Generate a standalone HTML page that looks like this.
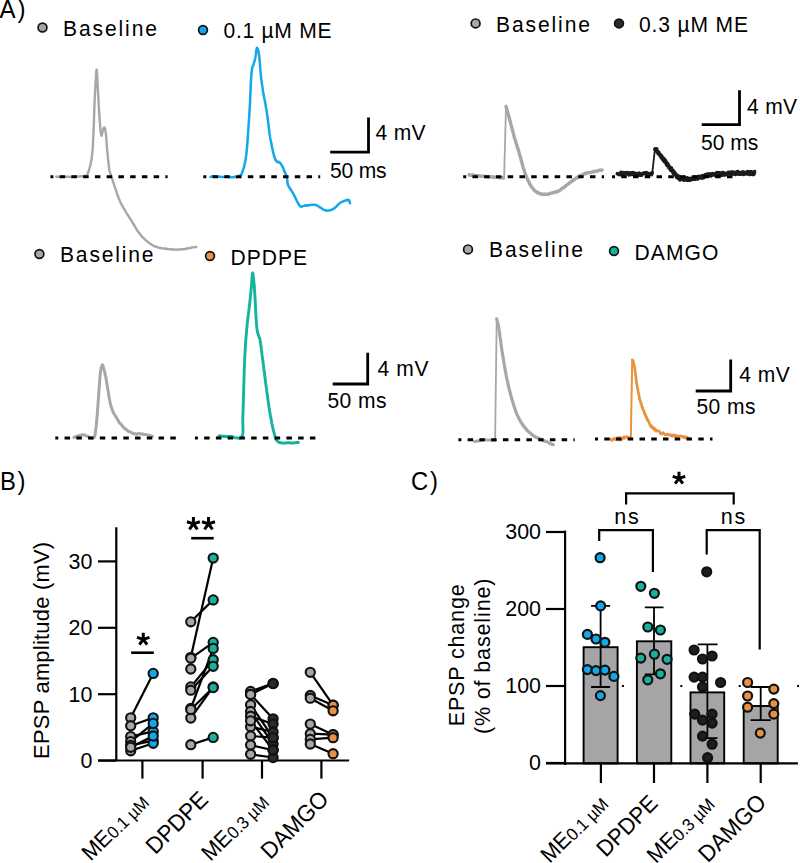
<!DOCTYPE html>
<html><head><meta charset="utf-8"><style>
html,body{margin:0;padding:0;background:#fff;}
svg{display:block;}
text{font-family:"Liberation Sans", sans-serif;fill:#000;}
</style></head><body>
<svg width="800" height="863" viewBox="0 0 800 863">
<rect width="800" height="863" fill="#fff"/>
<text transform="translate(-0.5,18) scale(0.955,1)" font-size="25.20" text-anchor="start" textLength="27.23" lengthAdjust="spacing" >A)</text>
<text transform="translate(0,489.5) scale(0.955,1)" font-size="24.99" text-anchor="start" textLength="26.70" lengthAdjust="spacing" >B)</text>
<text transform="translate(411,489.5) scale(0.955,1)" font-size="24.99" text-anchor="start" textLength="28.27" lengthAdjust="spacing" >C)</text>
<circle cx="42.5" cy="27.5" r="4.4" fill="#a7a7a9" stroke="#111" stroke-width="1.7"/>
<text transform="translate(63,35.7) scale(0.955,1)" font-size="22.05" text-anchor="start" textLength="98.43" lengthAdjust="spacing" >Baseline</text>
<circle cx="203" cy="30" r="4.4" fill="#12a8ec" stroke="#111" stroke-width="1.7"/>
<text transform="translate(223.5,37.6) scale(0.955,1)" font-size="22.05" text-anchor="start" textLength="113.09" lengthAdjust="spacing" >0.1 µM ME</text>
<circle cx="475.6" cy="23.4" r="4.4" fill="#a7a7a9" stroke="#111" stroke-width="1.7"/>
<text transform="translate(496,31.6) scale(0.955,1)" font-size="22.05" text-anchor="start" textLength="98.43" lengthAdjust="spacing" >Baseline</text>
<circle cx="619" cy="23.4" r="4.4" fill="#2a2a2a" stroke="#111" stroke-width="1.7"/>
<text transform="translate(639,31.6) scale(0.955,1)" font-size="22.05" text-anchor="start" textLength="114.14" lengthAdjust="spacing" >0.3 µM ME</text>
<circle cx="39.4" cy="254" r="4.4" fill="#a7a7a9" stroke="#111" stroke-width="1.7"/>
<text transform="translate(60,262) scale(0.955,1)" font-size="22.05" text-anchor="start" textLength="97.91" lengthAdjust="spacing" >Baseline</text>
<circle cx="210" cy="256" r="4.4" fill="#e8923f" stroke="#111" stroke-width="1.7"/>
<text transform="translate(230.5,264.6) scale(0.955,1)" font-size="22.05" text-anchor="start" textLength="80.10" lengthAdjust="spacing" >DPDPE</text>
<circle cx="468" cy="249.4" r="4.4" fill="#a7a7a9" stroke="#111" stroke-width="1.7"/>
<text transform="translate(489,257.4) scale(0.955,1)" font-size="22.05" text-anchor="start" textLength="98.43" lengthAdjust="spacing" >Baseline</text>
<circle cx="614" cy="251" r="4.4" fill="#14b3a0" stroke="#111" stroke-width="1.7"/>
<text transform="translate(634.5,260) scale(0.955,1)" font-size="22.05" text-anchor="start" textLength="87.96" lengthAdjust="spacing" >DAMGO</text>
<polyline points="56.2,176.5 56.7,176.9 57.2,176.8 57.9,176.6 58.6,176.7 59.4,176.7 60.2,176.8 61.1,176.9 62.0,176.6 62.9,176.5 63.9,177.0 64.9,176.8 65.8,176.9 66.7,176.6 67.6,176.8 68.5,176.9 69.3,176.7 70.0,177.0 71.0,177.0 71.9,176.5 72.9,176.5 73.8,176.8 74.7,176.9 75.5,176.6 76.4,176.5 77.2,176.6 77.9,176.4 78.7,176.4 79.4,176.5 80.0,176.5 81.2,176.3 82.1,176.3 83.0,176.2 83.7,176.3 84.4,176.1 85.0,175.8 85.8,176.1 86.4,176.0 86.9,175.6 87.6,173.8 87.8,173.8 87.9,173.2 88.1,172.3 88.3,171.8 88.5,171.4 88.8,170.8 89.0,170.2 89.2,169.2 89.4,168.7 89.6,167.8 89.9,166.8 90.1,166.1 90.3,165.4 90.5,164.5 90.7,163.4 90.9,162.5 91.1,161.2 91.3,160.4 91.5,159.6 91.7,158.4 91.8,157.2 91.9,156.8 92.0,156.2 92.0,155.4 92.1,154.6 92.2,153.9 92.3,153.2 92.3,152.5 92.4,151.6 92.5,150.8 92.5,150.0 92.6,149.0 92.6,148.2 92.7,147.7 92.8,147.0 92.8,145.9 92.9,145.0 92.9,144.0 92.9,143.3 93.0,142.7 93.0,141.7 93.1,140.7 93.1,140.0 93.2,138.8 93.2,138.1 93.2,137.4 93.3,136.3 93.3,135.4 93.4,134.4 93.4,133.7 93.4,133.1 93.5,131.8 93.5,131.3 93.6,130.5 93.6,129.7 93.6,128.8 93.7,128.0 93.7,127.0 93.8,126.2 93.8,125.3 93.8,124.3 93.9,123.8 93.9,122.8 93.9,121.8 93.9,121.1 94.0,120.2 94.0,119.3 94.0,118.5 94.1,117.7 94.1,116.9 94.1,116.1 94.1,115.1 94.2,114.1 94.2,113.3 94.2,112.5 94.2,111.9 94.3,111.2 94.3,110.3 94.3,109.5 94.3,108.7 94.4,107.6 94.4,107.1 94.4,106.3 94.5,105.2 94.5,104.4 94.5,103.7 94.5,103.3 94.6,102.3 94.6,101.5 94.6,100.8 94.7,99.8 94.7,98.7 94.8,97.8 94.8,97.1 94.8,96.1 94.9,95.2 94.9,94.6 95.0,93.6 95.0,92.7 95.1,91.9 95.1,90.8 95.1,90.2 95.2,89.4 95.2,88.5 95.3,87.7 95.3,87.3 95.4,86.4 95.4,85.5 95.5,85.0 95.5,84.4 95.5,83.3 95.6,82.6 95.6,82.0 95.7,81.6 95.7,80.7 95.8,79.8 95.8,78.6 95.9,77.4 96.0,76.0 96.1,75.2 96.1,74.0 96.2,72.9 96.3,71.8 96.3,71.2 96.4,70.4 96.5,70.0 96.6,69.6 96.6,69.6 96.7,69.5 96.7,69.8 96.8,70.5 96.8,70.8 96.9,71.0 96.9,71.9 97.0,72.2 97.0,73.3 97.1,74.0 97.1,74.6 97.2,75.4 97.2,76.2 97.3,77.6 97.3,78.2 97.4,79.6 97.4,80.7 97.5,81.6 97.5,82.5 97.6,83.9 97.6,85.0 97.7,85.9 97.7,86.8 97.8,87.7 97.8,88.4 97.9,89.1 97.9,90.1 98.0,90.7 98.0,91.4 98.1,92.1 98.1,93.2 98.1,93.9 98.2,94.8 98.2,95.5 98.3,96.7 98.3,97.5 98.4,98.0 98.4,98.9 98.5,99.8 98.5,101.0 98.6,101.8 98.6,102.4 98.6,103.2 98.7,104.3 98.7,105.3 98.8,106.1 98.8,106.7 98.9,107.8 98.9,108.5 99.0,109.2 99.0,110.2 99.1,110.6 99.1,111.6 99.2,112.0 99.2,112.7 99.3,114.1 99.3,114.7 99.4,116.0 99.5,116.8 99.5,117.9 99.6,118.6 99.7,119.5 99.7,120.4 99.8,121.6 99.9,122.4 99.9,123.4 100.0,124.2 100.1,124.6 100.1,125.6 100.2,126.2 100.2,126.9 100.3,127.6 100.4,128.7 100.4,129.3 100.5,129.9 100.5,130.3 100.6,131.0 100.8,132.7 101.0,133.8 101.1,134.9 101.3,135.3 101.4,135.5 101.6,135.7 101.8,135.7 101.9,134.9 102.1,134.2 102.3,132.9 102.5,131.8 102.7,131.1 102.9,130.4 103.4,128.6 103.8,127.8 104.3,127.3 104.5,127.5 104.8,128.3 105.0,128.5 105.2,129.4 105.5,131.0 105.7,132.3 105.8,132.7 105.8,133.3 105.9,134.0 106.0,135.0 106.0,135.4 106.1,136.6 106.2,137.1 106.2,138.2 106.3,139.1 106.4,139.6 106.4,140.5 106.5,141.5 106.6,142.3 106.6,143.5 106.7,144.1 106.8,145.0 106.9,146.5 106.9,147.1 107.0,148.1 107.1,149.0 107.2,149.7 107.3,150.3 107.3,151.6 107.4,152.5 107.5,153.3 107.6,153.8 107.7,154.7 107.7,155.8 107.8,156.9 107.9,157.6 108.0,158.5 108.1,159.4 108.2,160.1 108.3,161.1 108.4,161.8 108.5,162.7 108.6,163.4 108.7,164.3 108.8,165.4 108.8,165.9 108.9,166.7 109.0,167.4 109.1,168.1 109.2,168.4 109.4,169.7 109.6,170.8 109.8,171.6 110.0,172.6 110.2,173.2 110.4,173.5 110.7,174.2 110.9,175.1 111.2,176.0 111.4,176.7 111.7,177.2 111.9,177.8 112.1,178.6 112.3,179.2 112.6,180.2 112.8,180.8 113.1,181.5 113.3,182.6 113.6,183.2 113.9,184.3 114.1,185.0 114.4,186.0 114.7,186.5 115.0,187.5 115.2,188.4 115.5,188.7 115.7,189.9 116.0,190.3 116.3,191.4 116.5,192.3 116.8,193.0 117.1,193.5 117.3,194.2 117.6,195.2 117.9,196.2 118.2,196.7 118.5,197.7 118.8,198.1 119.1,199.3 119.4,199.6 119.7,200.5 120.0,201.5 120.4,202.2 120.7,203.0 121.1,203.7 121.5,204.4 121.9,205.1 122.3,205.5 122.6,206.4 123.0,206.9 123.4,207.9 123.9,208.6 124.3,209.0 124.7,209.6 125.1,210.7 125.5,211.3 125.9,211.9 126.2,212.5 126.7,213.4 127.1,214.0 127.6,214.7 128.0,215.4 128.5,216.0 128.9,216.6 129.4,217.7 129.8,218.2 130.3,219.0 130.7,219.5 131.2,220.3 131.6,220.9 132.1,221.6 132.5,222.4 132.9,223.4 133.4,223.9 133.8,224.6 134.2,225.5 134.7,226.0 135.1,226.6 135.5,227.6 136.0,228.3 136.4,229.1 136.9,229.8 137.3,230.6 137.8,231.3 138.3,231.7 138.8,232.5 139.3,233.2 139.8,233.7 140.3,234.5 140.9,235.2 141.4,236.0 142.0,236.7 142.5,237.0 143.1,237.8 143.7,238.1 144.3,238.7 144.9,239.5 145.6,240.2 146.2,240.4 146.9,241.2 147.5,241.8 148.2,242.1 148.9,242.7 149.5,243.3 150.2,243.6 150.9,244.2 151.7,244.7 152.4,245.1 153.1,245.6 153.9,246.1 154.7,246.5 155.5,246.6 156.2,246.7 157.0,247.0 157.8,247.3 158.6,247.7 159.4,247.9 160.2,247.8 161.1,248.2 161.9,248.4 162.8,248.3 163.6,248.5 164.5,248.4 165.4,248.8 166.2,248.5 167.1,249.1 167.9,249.1 168.8,249.1 169.6,249.0 170.4,249.4 171.2,249.5 172.0,249.1 172.8,249.5 173.6,249.6 174.4,249.5 175.3,249.6 176.1,249.5 176.9,249.8 177.7,249.8 178.6,249.5 179.5,249.7 180.3,249.4 181.2,249.2 182.0,249.2 182.8,249.1 183.6,249.3 184.5,249.2 185.4,248.7 186.3,248.8 187.2,248.5 188.2,248.2 189.1,248.2 190.0,248.0 190.9,248.0 191.7,247.5 192.5,247.4 193.3,247.4 194.0,247.1 194.7,247.2 195.3,247.1 195.8,247.1 196.2,246.8" fill="none" stroke="#a7a7a9" stroke-width="2.4" stroke-linejoin="round" stroke-linecap="round"/>
<polyline points="210.6,176.9 211.0,176.9 211.6,176.3 212.2,176.3 212.9,176.9 213.6,176.8 214.4,176.8 215.2,176.5 216.1,176.8 217.0,176.8 217.9,176.8 218.8,176.5 219.8,176.7 220.7,176.7 221.6,176.9 222.5,177.1 223.4,177.1 224.2,176.8 225.0,176.8 225.9,176.6 226.8,176.5 227.7,176.6 228.6,176.9 229.5,176.9 230.4,177.0 231.3,177.4 232.2,177.2 233.1,177.2 233.9,177.0 234.7,176.8 235.5,177.0 236.3,176.8 237.0,177.0 237.6,177.1 238.2,176.7 239.0,176.0 239.7,176.1 240.3,175.5 240.8,174.9 241.3,174.4 241.7,173.6 242.0,172.9 242.4,171.7 242.7,171.1 243.1,170.0 243.3,168.9 243.5,168.7 243.7,168.0 243.9,167.2 244.1,166.5 244.3,165.8 244.4,165.3 244.6,164.3 244.8,163.7 244.9,162.6 245.1,162.1 245.3,161.3 245.4,160.1 245.6,159.3 245.7,158.6 245.9,157.6 246.0,156.4 246.1,155.3 246.3,154.4 246.4,153.6 246.5,152.6 246.6,152.4 246.6,151.2 246.7,151.0 246.8,149.8 246.9,149.5 246.9,148.5 247.0,147.6 247.1,146.8 247.1,146.1 247.2,145.2 247.3,144.2 247.3,143.3 247.4,142.7 247.5,142.2 247.5,141.1 247.6,139.9 247.6,139.5 247.7,138.6 247.7,137.9 247.8,136.5 247.9,136.1 247.9,134.7 248.0,134.3 248.0,133.2 248.1,132.3 248.1,131.9 248.2,130.6 248.2,130.0 248.3,129.4 248.4,128.2 248.4,127.4 248.5,127.0 248.5,125.9 248.6,125.3 248.6,124.0 248.7,123.4 248.8,122.4 248.8,122.0 248.9,120.7 248.9,120.5 249.0,119.1 249.0,118.7 249.1,117.4 249.2,116.8 249.2,116.4 249.3,115.1 249.3,114.3 249.4,113.8 249.4,112.8 249.5,111.8 249.5,111.6 249.6,110.2 249.6,109.3 249.7,108.7 249.7,108.1 249.8,107.4 249.8,106.2 249.9,105.6 249.9,104.6 249.9,104.0 250.0,103.4 250.0,102.5 250.1,101.8 250.1,100.8 250.2,100.0 250.2,99.0 250.2,98.0 250.3,97.0 250.3,96.4 250.3,95.3 250.4,94.3 250.4,93.7 250.4,93.1 250.5,91.7 250.5,91.2 250.5,90.3 250.6,89.5 250.6,88.5 250.6,88.3 250.7,87.0 250.7,86.5 250.7,85.6 250.8,84.6 250.8,84.3 250.8,83.3 250.9,82.5 250.9,81.9 251.0,80.9 251.0,79.8 251.1,79.1 251.2,78.1 251.2,77.5 251.3,76.6 251.3,75.8 251.4,74.4 251.5,73.8 251.5,72.9 251.6,72.4 251.7,71.7 251.8,71.2 251.8,70.5 251.9,69.6 252.0,69.1 252.2,68.0 252.5,66.7 252.8,66.0 253.0,65.7 253.3,64.8 253.6,64.5 253.8,63.4 254.0,62.6 254.2,61.9 254.5,61.2 254.7,60.3 254.9,59.7 255.1,58.8 255.3,57.7 255.4,57.2 255.6,56.0 255.7,55.5 255.8,54.5 255.9,53.3 256.1,52.1 256.2,51.2 256.3,50.3 256.5,49.1 256.6,48.8 256.7,48.4 256.9,47.9 257.1,47.8 257.4,48.5 257.7,48.6 257.9,49.4 258.2,50.7 258.5,51.6 258.7,52.8 259.0,54.9 259.1,55.1 259.2,55.4 259.2,56.5 259.3,56.8 259.4,57.7 259.4,58.8 259.5,59.4 259.6,59.8 259.6,60.9 259.7,61.7 259.8,62.7 259.9,63.3 259.9,64.5 260.0,65.0 260.1,66.1 260.1,67.1 260.2,68.4 260.3,68.7 260.4,70.0 260.4,70.5 260.5,71.7 260.6,72.4 260.7,73.3 260.7,74.3 260.8,74.9 260.9,75.4 261.0,76.3 261.1,77.2 261.2,78.6 261.3,79.4 261.4,80.5 261.6,81.2 261.7,81.6 261.8,82.9 261.9,83.9 262.0,84.7 262.2,85.4 262.3,86.2 262.4,87.0 262.5,88.1 262.7,88.5 262.8,89.5 262.9,90.2 263.0,91.2 263.1,91.8 263.2,92.6 263.3,93.1 263.4,93.4 263.6,94.5 263.8,95.6 263.9,96.3 264.1,97.1 264.2,97.9 264.3,98.7 264.5,99.1 264.6,99.9 264.8,100.3 265.0,101.5 265.1,102.6 265.2,102.7 265.4,103.5 265.5,104.0 265.6,104.8 265.7,106.1 265.9,106.9 266.0,107.5 266.1,107.9 266.3,108.9 266.4,109.7 266.6,110.8 266.7,111.7 266.8,112.5 267.0,113.4 267.1,114.1 267.3,115.3 267.4,116.5 267.5,117.1 267.6,117.4 267.7,118.4 267.8,119.3 267.9,119.8 268.0,121.0 268.1,121.5 268.2,122.5 268.3,123.1 268.4,124.3 268.5,125.0 268.5,125.7 268.6,126.2 268.7,127.3 268.8,127.9 269.0,129.1 269.1,130.1 269.2,130.5 269.3,131.6 269.4,132.4 269.5,133.2 269.6,134.2 269.8,135.2 269.9,135.8 270.0,136.5 270.2,137.7 270.3,138.1 270.5,139.3 270.7,140.1 270.8,141.0 271.0,142.0 271.2,142.5 271.3,143.6 271.5,144.4 271.7,145.4 271.9,146.5 272.1,147.2 272.2,147.6 272.4,148.7 272.6,149.7 272.8,150.7 272.9,151.3 273.1,152.1 273.3,152.3 273.4,153.6 273.6,154.1 273.8,154.6 273.9,155.4 274.3,156.8 274.7,157.5 275.1,159.0 275.4,159.7 275.8,159.9 276.1,160.8 276.4,161.2 276.8,161.4 277.7,162.3 278.6,161.8 279.6,162.5 280.0,162.8 280.5,163.2 280.9,164.0 281.3,164.6 281.8,165.2 282.3,166.6 282.8,167.0 283.1,167.5 283.4,168.5 283.7,169.5 284.0,170.1 284.3,171.0 284.7,171.6 285.0,172.5 285.3,173.1 285.6,173.9 285.9,174.9 286.2,175.3 286.5,176.1 286.7,177.3 286.9,177.6 287.1,178.9 287.3,179.8 287.3,180.3 287.4,181.3 287.4,182.1 287.5,182.9 287.6,183.2 287.7,183.9 288.0,184.9 288.3,185.7 288.7,186.2 289.1,186.7 289.5,187.8 290.0,188.8 290.5,189.1 291.0,189.9 291.5,190.6 292.0,191.4 292.5,192.5 293.0,192.9 293.4,193.8 293.8,194.5 294.2,195.3 294.6,196.4 295.0,196.7 295.4,198.1 295.8,198.6 296.2,199.6 296.6,200.5 297.0,201.2 297.3,201.7 297.7,202.7 298.0,202.7 298.7,204.3 299.2,205.0 299.8,205.8 300.3,206.4 301.0,206.7 301.7,206.7 302.3,206.3 303.1,206.1 303.9,205.9 304.9,205.5 306.0,205.3 306.7,205.8 307.4,205.1 308.3,205.5 309.2,205.1 310.1,205.0 311.1,204.9 312.0,204.7 312.9,204.9 313.8,204.7 314.6,204.9 315.4,204.8 316.0,205.3 317.2,205.6 317.9,205.7 318.5,206.4 319.2,207.2 320.0,207.4 320.6,207.6 321.3,208.1 322.1,208.6 322.8,209.4 323.6,209.6 324.4,210.0 325.2,210.5 326.0,210.3 326.8,210.8 327.7,210.6 328.6,210.4 329.4,210.5 330.3,210.0 331.2,210.1 332.1,209.7 333.0,209.0 333.6,208.7 334.3,208.5 334.9,207.8 335.5,207.2 336.1,206.7 336.8,206.1 337.4,205.3 338.0,204.9 338.7,203.8 339.3,203.5 340.0,203.1 340.8,202.5 341.6,202.0 342.5,201.5 343.4,201.6 344.3,200.8 345.2,200.6 346.0,200.6 346.8,199.9 347.4,200.4 348.0,199.7 349.0,200.1 349.5,201.2 349.8,202.2 350.0,203.3" fill="none" stroke="#12a8ec" stroke-width="2.5" stroke-linejoin="round" stroke-linecap="round"/>
<polyline points="469.0,174.8 469.6,175.1 470.2,175.0 470.8,175.2 471.4,175.3 472.0,175.0 472.6,175.0 473.2,175.6 473.9,175.3 474.5,175.3 475.1,175.8 475.7,175.6 476.3,175.8 476.9,175.7 477.5,175.8 478.1,175.6 478.7,175.9 479.3,176.1 479.9,176.0 480.5,176.2 481.1,176.2 481.8,175.9 482.4,176.3 483.0,176.3 483.6,176.2 484.2,176.1 484.8,176.6 485.4,176.4 486.0,176.6 486.6,176.8 487.2,176.7 487.8,176.9 488.4,176.6 489.0,176.9 489.6,176.7 490.2,177.1 490.8,177.1 491.4,176.7 492.0,176.7 492.6,176.8 493.2,177.3 493.8,177.0 494.4,177.2 495.1,177.1 495.7,177.2 496.3,177.2 496.9,177.2 497.5,177.4 498.1,177.4 498.7,177.7 499.3,177.6 499.9,177.8 500.5,177.8 501.1,177.9 501.7,177.8 502.3,177.5 502.9,178.0 503.5,178.1" fill="none" stroke="#a7a7a9" stroke-width="3.4" stroke-linejoin="round" stroke-linecap="round"/>
<polyline points="504.1,178.0 504.1,177.4 504.1,176.8 504.1,176.2 504.2,175.6 504.2,175.0 504.2,174.4 504.2,173.8 504.2,173.2 504.2,172.6 504.3,172.0 504.3,171.4 504.3,170.8 504.3,170.2 504.3,169.6 504.3,169.0 504.4,168.4 504.4,167.8 504.4,167.2 504.4,166.6 504.4,166.0 504.4,165.4 504.5,164.8 504.5,164.2 504.5,163.6 504.5,163.0 504.5,162.4 504.5,161.8 504.5,161.2 504.6,160.6 504.6,160.0 504.6,159.4 504.6,158.8 504.6,158.2 504.6,157.6 504.7,157.0 504.7,156.4 504.7,155.8 504.7,155.2 504.7,154.6 504.7,154.0 504.8,153.4 504.8,152.8 504.8,152.2 504.8,151.6 504.8,151.0 504.8,150.4 504.9,149.8 504.9,149.2 504.9,148.6 504.9,148.0 504.9,147.4 504.9,146.8 504.9,146.2 505.0,145.6 505.0,145.0 505.0,144.4 505.0,143.8 505.0,143.2 505.0,142.6 505.1,142.0 505.1,141.4 505.1,140.8 505.1,140.2 505.1,139.6 505.1,139.0 505.2,138.4 505.2,137.8 505.2,137.2 505.2,136.6 505.2,136.0 505.2,135.4 505.2,134.8 505.3,134.2 505.3,133.6 505.3,133.0 505.3,132.4 505.3,131.8 505.3,131.2 505.4,130.6 505.4,130.0 505.4,129.4 505.4,128.8 505.4,128.2 505.4,127.6 505.5,127.0 505.5,126.4 505.5,125.8 505.5,125.2 505.5,124.6 505.5,124.0 505.6,123.4 505.6,122.8 505.6,122.2 505.6,121.6 505.6,121.0 505.6,120.4 505.6,119.8 505.7,119.2 505.7,118.6 505.7,118.0 505.7,117.4 505.7,116.8 505.7,116.2 505.8,115.6 505.8,115.0 505.8,114.4 505.8,113.8 505.8,113.2 505.8,112.6 505.9,112.0 505.9,111.4 505.9,110.8 505.9,110.2 505.9,109.6 505.9,109.0 506.0,108.4 506.0,107.8 506.0,107.2 506.0,106.6" fill="none" stroke="#a7a7a9" stroke-width="1.8" stroke-linejoin="round" stroke-linecap="round"/>
<polyline points="506.0,106.4 506.1,106.8 506.3,107.5 506.4,107.9 506.6,108.5 506.8,109.4 507.0,110.4 507.3,111.2 507.5,112.0 507.7,112.5 508.0,113.6 508.3,114.4 508.5,115.2 508.8,116.2 509.1,117.2 509.3,118.6 509.6,119.5 509.8,120.2 510.0,120.9 510.2,121.2 510.4,122.1 510.6,123.0 510.8,123.9 511.0,124.8 511.2,125.6 511.4,125.9 511.6,127.1 511.9,127.9 512.1,128.7 512.3,129.3 512.5,130.3 512.8,131.0 513.0,132.3 513.2,133.1 513.4,133.7 513.6,134.4 513.9,135.5 514.1,136.1 514.3,137.1 514.5,137.8 514.7,138.4 515.0,139.2 515.2,140.2 515.5,140.9 515.7,141.5 515.9,142.4 516.2,143.5 516.4,143.8 516.7,144.5 516.9,145.7 517.1,146.2 517.4,147.1 517.6,147.9 517.9,148.5 518.1,149.7 518.3,150.0 518.6,150.9 518.8,151.6 519.1,152.7 519.3,153.3 519.5,154.1 519.7,155.1 520.0,155.6 520.2,156.5 520.4,157.5 520.6,157.9 520.9,158.7 521.1,159.6 521.3,160.7 521.5,161.4 521.7,162.0 522.0,162.9 522.2,163.6 522.4,164.6 522.6,165.1 522.9,166.3 523.1,167.2 523.3,168.0 523.5,168.6 523.8,169.4 524.0,169.5 524.2,170.4 524.5,171.7 524.8,172.4 525.1,173.1 525.4,174.2 525.7,174.8 526.0,175.8 526.3,176.2 526.6,176.9 526.9,177.8 527.2,178.3 527.5,179.2 527.8,180.2 528.1,180.5 528.4,181.0 528.8,181.7 529.1,182.4 529.5,183.6 529.9,184.1 530.4,184.8 530.8,185.4 531.2,186.7 531.7,187.0 532.1,187.6 532.6,188.1 533.1,188.7 533.6,189.4 534.1,190.2 534.6,190.4 535.2,190.8 535.9,191.6 536.6,191.9 537.4,192.8 538.2,192.7 539.1,193.2 539.9,193.7 540.7,193.7 541.6,194.3 542.4,194.1 543.2,194.1 544.0,194.3 544.8,194.2 545.7,194.4 546.5,194.2 547.3,194.5 548.2,194.3 549.0,193.9 549.8,193.4 550.6,193.3 551.4,193.1 552.2,192.8 553.0,192.6 553.7,192.8 554.4,192.2 555.1,191.9 555.9,192.2 556.6,191.7 557.4,191.7 558.2,191.0 559.1,190.8 560.0,190.1 560.6,189.8 561.1,189.4 561.8,188.8 562.4,188.1 563.0,187.7 563.7,187.6 564.4,187.1 565.0,186.6 565.7,185.7 566.4,185.3 567.1,184.8 567.8,184.2 568.5,183.7 569.3,183.0 570.0,182.5 570.6,182.1 571.3,181.3 572.0,181.3 572.7,180.8 573.4,179.8 574.0,179.9 574.7,179.4 575.3,178.8 576.0,178.0 576.6,178.1 577.3,177.2 578.0,177.3 578.6,176.7 579.3,175.9 580.0,175.6 580.8,175.5 581.5,175.1 582.3,174.8 583.1,174.6 584.0,173.8 584.7,173.5 585.4,173.8 586.2,173.0 587.0,173.3 587.8,172.6 588.7,172.8 589.6,172.6 590.5,172.5 591.4,172.1 592.4,172.1 593.3,171.5 594.2,171.6 595.1,171.2 596.0,171.4 596.8,171.1 597.7,170.8 598.4,170.7 599.2,170.3 599.9,170.1 600.5,170.4 601.1,170.2 601.6,170.3 602.0,170.1" fill="none" stroke="#a7a7a9" stroke-width="3.4" stroke-linejoin="round" stroke-linecap="round"/>
<polyline points="617.3,173.7 617.9,174.0 618.5,174.2 619.1,174.6 619.7,174.1 620.4,174.6 621.0,172.3 621.6,173.5 622.2,174.7 622.8,174.0 623.4,174.6 624.0,172.6 624.6,173.6 625.2,173.0 625.8,173.8 626.5,173.9 627.1,172.5 627.7,173.0 628.3,173.2 628.9,174.9 629.5,174.5 630.1,172.9 630.7,174.6 631.3,172.9 631.9,174.2 632.6,172.9 633.2,172.6 633.8,174.9 634.4,173.2 635.0,173.3 635.6,175.3 636.2,175.0 636.8,173.5 637.5,175.2 638.1,174.1 638.7,174.5 639.3,173.2 639.9,175.1 640.5,174.5 641.1,175.2 641.8,175.0 642.4,173.5 643.0,173.6 643.6,173.1 644.2,173.1 644.8,172.9 645.4,173.5 646.1,174.3 646.7,172.7 647.3,174.5 647.9,173.6 648.5,173.5 649.1,174.8 649.7,173.9 650.4,173.5 651.0,174.0 651.6,174.5 652.2,172.8" fill="none" stroke="#1a1a1a" stroke-width="3.6" stroke-linejoin="round" stroke-linecap="round"/>
<polyline points="652.2,173.8 652.3,173.1 652.3,172.5 652.4,171.9 652.5,171.3 652.5,170.7 652.6,170.1 652.7,169.5 652.7,168.9 652.8,168.3 652.9,167.7 652.9,167.1 653.0,166.5 653.1,165.9 653.1,165.3 653.2,164.7 653.3,164.1 653.3,163.5 653.4,162.9 653.5,162.3 653.5,161.7 653.6,161.1 653.7,160.5 653.7,159.9 653.8,159.3 653.9,158.7 653.9,158.1 654.0,157.5 654.1,156.8 654.1,156.2 654.2,155.6 654.3,155.0 654.3,154.4 654.4,153.8 654.5,153.2 654.5,152.6 654.6,152.0 654.7,151.4 654.7,150.8 654.8,150.2 654.9,149.6 654.9,149.0 655.0,148.4" fill="none" stroke="#1a1a1a" stroke-width="1.8" stroke-linejoin="round" stroke-linecap="round"/>
<polyline points="655.0,149.2 655.4,149.7 655.7,149.3 656.1,149.2 656.5,149.0 656.8,151.2 657.2,151.2 657.6,152.4 658.0,151.9 658.3,153.4 658.7,152.6 659.1,154.4 659.4,154.7 659.8,154.4 660.2,155.2 660.5,156.0 660.9,155.2 661.3,156.6 661.6,157.8 662.0,156.8 662.4,158.7 662.7,158.9 663.1,159.8 663.5,158.9 663.9,158.8 664.2,161.1 664.6,161.6 665.0,161.1 665.3,160.7 665.7,161.4 666.1,163.0 666.4,162.6 666.8,164.8 667.2,164.3 667.5,163.8 667.9,165.5 668.3,165.2 668.7,167.1 669.0,167.5 669.4,167.0 669.8,167.8 670.1,168.4 670.5,169.2 670.9,170.1 671.2,168.1 671.6,169.5 672.0,170.6 672.3,170.3 672.7,171.5 673.1,170.7 673.4,173.2 673.8,172.7 674.2,172.1 674.6,174.0 674.9,173.6 675.3,173.8 675.7,175.0 676.0,174.6 676.4,175.2 676.9,177.3 677.4,177.3 677.9,175.8 678.5,178.2 679.0,176.6 679.5,177.8 680.0,179.7 680.6,178.9 681.2,178.1 681.9,178.3 682.5,178.4 683.1,177.7 683.8,180.0 684.4,177.5 685.0,178.5 685.6,179.4 686.2,178.5 686.9,180.0 687.5,178.1 688.1,180.0 688.8,179.8 689.4,179.2 690.0,179.8 690.6,178.6 691.2,179.5 691.8,179.4 692.5,178.6 693.1,178.4 693.7,179.0 694.3,178.1 694.9,177.2 695.5,178.9 696.2,177.6 696.8,178.1 697.4,178.8 698.0,177.1 698.6,176.6 699.2,176.7 699.8,177.7 700.4,176.9 701.0,176.5 701.6,176.8 702.2,177.9 702.8,175.9 703.4,176.2 704.0,177.2 704.6,176.3 705.2,175.2 705.8,175.6 706.4,175.4 707.0,174.4 707.6,174.8 708.2,174.5 708.8,175.6 709.4,174.1 710.0,175.0 710.6,175.8 711.2,175.6 711.8,174.1 712.5,174.7 713.1,173.9 713.7,174.1 714.3,174.3 714.9,175.0 715.5,175.4 716.1,173.7 716.7,172.9 717.3,174.0 718.0,173.0 718.6,172.9 719.2,174.8 719.8,173.0 720.4,174.5 721.0,173.6 721.6,175.0 722.2,174.8 722.8,172.7 723.5,173.0 724.1,174.9 724.7,174.0 725.3,173.5 725.9,174.4 726.5,174.4 727.1,173.6 727.7,173.5 728.3,172.5 728.9,173.1 729.6,172.5 730.2,173.7 730.8,173.7 731.4,172.4 732.0,173.6 732.6,172.2 733.2,172.2 733.8,173.6 734.4,173.1 735.1,174.2 735.7,173.4 736.3,173.6 736.9,172.1 737.5,173.9 738.1,171.9 738.7,173.3 739.3,174.1 739.9,174.1 740.5,174.0 741.1,172.9 741.7,173.5 742.3,173.8 742.9,172.1 743.5,174.2 744.1,174.1 744.7,172.8 745.3,173.7 746.0,172.9 746.6,172.4 747.2,173.6 747.8,171.9 748.4,173.8 749.0,174.2 749.6,172.4 750.2,174.1 750.8,171.9 751.4,173.9 752.0,172.4 752.6,174.2 753.2,172.8 753.8,174.1 754.4,171.8" fill="none" stroke="#1a1a1a" stroke-width="4.0" stroke-linejoin="round" stroke-linecap="round"/>
<polyline points="73.8,437.4 74.2,437.1 74.9,437.3 75.6,436.6 76.4,436.6 77.3,436.2 78.3,435.7 79.2,435.7 80.1,435.2 81.0,435.2 81.8,434.8 82.5,434.7 83.6,434.9 84.4,435.3 85.2,435.1 86.0,435.4 86.7,436.0 87.5,436.6 88.4,436.6 89.3,437.0 90.2,437.8 91.0,437.6 91.8,438.4 92.5,438.1 93.2,437.8 93.7,437.6 94.2,437.3 94.6,436.8 95.0,434.8 95.1,434.5 95.2,434.0 95.3,433.2 95.4,432.6 95.5,431.5 95.6,430.8 95.7,430.1 95.8,429.6 95.9,428.5 96.0,427.6 96.1,426.8 96.2,425.8 96.3,424.8 96.4,424.2 96.5,423.3 96.6,422.0 96.7,421.4 96.7,420.5 96.8,419.8 96.9,418.9 97.0,417.8 97.0,417.5 97.1,416.1 97.2,415.5 97.2,414.9 97.3,413.7 97.4,413.1 97.4,412.0 97.5,411.6 97.5,410.9 97.6,409.9 97.6,409.4 97.7,408.1 97.8,407.6 97.8,406.7 97.9,405.9 97.9,405.0 98.0,404.4 98.0,403.7 98.1,402.5 98.2,401.8 98.2,400.6 98.3,400.2 98.3,399.3 98.4,398.7 98.5,397.7 98.5,396.5 98.6,395.7 98.7,395.0 98.7,393.7 98.8,393.1 98.8,392.1 98.9,391.2 99.0,390.3 99.0,390.0 99.1,388.7 99.2,387.9 99.2,387.2 99.3,386.8 99.3,385.5 99.4,385.0 99.5,384.1 99.5,383.4 99.6,382.5 99.7,381.6 99.7,380.3 99.8,379.5 99.9,378.6 99.9,378.1 100.0,377.3 100.1,375.9 100.1,375.2 100.2,374.4 100.3,373.7 100.3,373.2 100.4,372.6 100.5,371.7 100.6,370.9 100.8,370.0 101.0,368.7 101.2,367.7 101.5,367.0 101.7,366.0 102.0,365.3 102.2,365.1 102.5,365.1 102.7,364.9 102.9,365.9 103.2,366.5 103.4,367.3 103.6,368.1 103.9,368.8 104.1,369.8 104.3,370.6 104.6,372.0 104.8,372.5 105.0,373.4 105.2,374.3 105.3,375.1 105.5,375.9 105.7,376.5 105.8,377.2 106.0,378.1 106.1,378.9 106.2,379.9 106.4,380.5 106.6,382.0 106.7,382.8 106.9,383.5 107.0,384.3 107.1,385.0 107.3,385.8 107.4,386.4 107.5,387.7 107.6,388.6 107.8,389.1 107.9,390.0 108.0,390.5 108.2,391.4 108.3,392.4 108.5,393.2 108.6,394.4 108.7,394.8 108.9,395.5 109.0,396.9 109.1,397.4 109.3,397.8 109.4,398.8 109.6,399.4 109.8,400.7 110.0,402.0 110.2,402.8 110.3,403.5 110.5,404.0 110.7,404.8 110.9,405.5 111.1,406.6 111.4,407.2 111.6,408.2 111.9,408.6 112.2,409.3 112.5,410.5 112.8,411.4 113.1,412.0 113.5,412.7 113.8,413.4 114.2,414.1 114.6,414.4 115.0,415.4 115.4,416.0 115.8,416.4 116.2,417.2 116.7,418.0 117.1,418.7 117.6,419.7 118.0,420.6 118.5,421.0 119.0,422.1 119.5,422.8 120.0,423.5 120.5,423.7 121.0,424.3 121.5,424.9 122.0,425.5 122.5,426.0 123.1,427.0 123.8,427.8 124.4,428.3 125.0,428.6 125.6,429.2 126.2,429.8 126.9,429.8 127.5,430.6 128.1,431.2 128.8,431.4 129.5,431.9 130.3,432.1 131.0,432.2 131.8,433.0 132.6,433.0 133.3,433.6 134.2,433.9 135.0,433.7 135.8,433.8 136.5,434.2 137.3,434.1 138.1,433.7 138.9,433.6 139.8,433.6 140.6,434.1 141.6,434.1 142.5,433.8 143.3,434.4 144.1,434.6 145.1,434.6 146.0,434.6 147.0,434.9 148.0,434.9 148.9,435.0 149.8,435.9 150.6,435.9 151.4,436.0 152.0,436.4 152.5,436.2" fill="none" stroke="#a7a7a9" stroke-width="3.0" stroke-linejoin="round" stroke-linecap="round"/>
<polyline points="219.1,435.9 219.6,436.4 220.2,435.9 220.9,436.3 221.6,436.0 222.5,436.1 223.3,436.6 224.3,436.2 225.2,436.5 226.2,436.4 227.2,436.5 228.2,436.5 229.1,436.4 230.0,436.8 230.8,436.4 231.7,436.7 232.7,436.7 233.6,437.1 234.6,437.5 235.6,438.0 236.5,437.9 237.4,437.9 238.3,438.1 239.2,438.5 240.0,437.8 240.7,437.8 241.3,437.2 241.8,436.7 242.0,436.1 242.2,435.9 242.4,435.3 242.5,435.0 242.7,434.6 242.8,433.9 242.8,433.1 242.9,432.5 242.9,432.5 243.0,431.6 243.0,430.7 243.0,430.5 243.0,429.6 243.0,428.9 243.0,428.2 242.9,427.0 242.9,426.2 242.9,425.6 242.9,424.2 242.8,423.6 242.8,422.1 242.8,421.4 242.8,420.2 242.8,419.2 242.8,417.9 242.9,416.4 242.9,414.8 242.9,414.2 242.9,413.9 243.0,413.2 243.0,412.4 243.0,412.2 243.0,411.3 243.1,410.8 243.1,409.8 243.1,409.1 243.1,408.2 243.1,407.7 243.2,406.9 243.2,406.2 243.2,405.4 243.2,404.9 243.3,404.2 243.3,402.9 243.3,402.3 243.3,401.3 243.4,400.8 243.4,400.1 243.4,398.8 243.4,398.3 243.4,397.2 243.5,396.1 243.5,395.7 243.5,394.6 243.5,393.6 243.6,392.8 243.6,391.8 243.6,391.0 243.6,390.2 243.7,389.3 243.7,388.5 243.7,387.4 243.8,386.4 243.8,385.5 243.8,384.6 243.8,383.9 243.9,382.9 243.9,382.3 243.9,381.2 243.9,380.5 244.0,379.7 244.0,378.3 244.0,377.4 244.0,376.6 244.1,375.9 244.1,375.1 244.1,374.4 244.2,373.3 244.2,372.9 244.2,371.4 244.2,371.1 244.3,369.9 244.3,369.6 244.3,368.3 244.3,368.0 244.4,367.2 244.4,366.5 244.4,365.6 244.5,364.6 244.5,364.4 244.5,363.4 244.5,362.5 244.6,362.1 244.6,361.4 244.6,360.3 244.7,359.1 244.7,358.1 244.8,357.3 244.8,356.3 244.9,355.1 244.9,354.4 245.0,353.6 245.0,352.7 245.1,351.7 245.1,350.8 245.2,349.9 245.2,349.0 245.3,348.1 245.3,347.5 245.4,346.5 245.4,346.0 245.5,345.3 245.5,344.4 245.6,343.3 245.6,342.8 245.7,342.1 245.7,341.1 245.8,340.9 245.8,340.1 245.9,339.2 245.9,338.6 246.0,337.6 246.0,336.9 246.1,336.4 246.2,335.8 246.2,335.1 246.3,334.0 246.3,333.6 246.4,333.1 246.5,332.3 246.5,331.7 246.6,331.0 246.6,329.9 246.7,329.2 246.8,328.4 246.9,327.8 247.0,326.5 247.0,326.0 247.1,325.1 247.2,324.0 247.3,323.2 247.4,322.5 247.5,321.5 247.6,320.4 247.7,319.9 247.8,318.6 247.9,317.9 248.0,317.4 248.1,316.5 248.2,315.4 248.3,314.6 248.4,314.0 248.5,313.3 248.6,312.4 248.7,311.8 248.8,310.9 248.9,310.2 249.0,309.3 249.1,308.5 249.2,307.8 249.3,307.1 249.4,306.4 249.5,305.9 249.5,304.8 249.6,304.0 249.7,303.7 249.8,302.5 249.9,301.6 250.0,300.4 250.1,299.9 250.2,298.7 250.3,297.8 250.4,297.3 250.5,296.3 250.5,295.3 250.6,294.9 250.7,293.8 250.8,293.0 250.8,292.6 250.9,291.7 251.0,290.9 251.1,289.9 251.1,289.5 251.2,288.6 251.3,288.0 251.3,287.0 251.4,286.6 251.5,285.6 251.6,284.3 251.7,283.3 251.7,282.2 251.8,281.2 251.9,280.0 252.0,278.8 252.0,277.4 252.1,276.6 252.2,275.8 252.3,274.6 252.3,274.1 252.4,273.8 252.5,273.5 252.6,273.3 252.7,272.9 252.8,273.3 252.9,273.7 252.9,273.9 253.0,274.2 253.1,274.5 253.2,275.6 253.3,276.3 253.4,276.9 253.5,277.5 253.5,278.6 253.6,279.5 253.7,280.4 253.8,281.3 253.9,282.1 254.0,283.1 254.1,284.2 254.2,285.3 254.3,286.5 254.4,287.3 254.4,288.7 254.5,289.6 254.6,290.5 254.6,291.2 254.7,292.0 254.7,292.8 254.8,293.8 254.8,294.2 254.9,295.0 254.9,295.9 255.0,296.7 255.0,297.9 255.1,298.4 255.1,299.2 255.2,300.4 255.2,301.4 255.3,302.4 255.3,303.2 255.3,303.9 255.4,305.2 255.4,306.0 255.5,306.8 255.5,307.7 255.6,308.8 255.6,309.8 255.6,310.6 255.7,311.0 255.7,311.9 255.8,312.8 255.8,313.5 255.9,314.6 255.9,314.9 255.9,316.2 256.0,316.7 256.0,317.4 256.1,317.9 256.1,318.9 256.2,319.9 256.3,321.2 256.3,322.2 256.4,323.1 256.5,324.1 256.5,324.7 256.6,325.4 256.7,326.4 256.8,326.9 256.8,327.5 256.9,328.3 257.0,328.8 257.1,329.3 257.2,330.3 257.3,330.7 257.4,331.7 257.6,332.3 257.8,333.4 258.0,333.7 258.3,334.4 258.5,335.2 258.8,336.1 259.0,336.8 259.3,337.4 259.5,337.9 259.8,338.9 260.0,339.7 260.1,340.6 260.2,341.6 260.4,341.9 260.5,342.8 260.6,343.5 260.7,343.9 260.8,345.0 260.9,345.4 261.0,346.2 261.1,347.3 261.2,347.9 261.3,349.2 261.4,349.8 261.6,350.9 261.7,352.1 261.8,352.6 262.0,354.2 262.1,354.7 262.2,355.7 262.3,356.4 262.4,357.3 262.4,357.6 262.5,358.6 262.6,359.2 262.7,359.8 262.8,360.4 262.9,361.2 263.0,362.0 263.1,362.8 263.2,363.6 263.3,364.6 263.4,365.2 263.5,366.2 263.6,366.6 263.7,367.5 263.8,368.7 263.9,369.7 264.0,370.2 264.2,370.9 264.3,371.8 264.4,372.8 264.5,373.6 264.6,374.6 264.7,375.3 264.8,376.4 264.9,377.4 265.1,378.3 265.2,379.1 265.3,379.9 265.4,380.6 265.5,381.7 265.6,382.1 265.7,383.2 265.8,383.8 265.9,384.7 266.0,385.4 266.1,386.3 266.2,387.0 266.4,387.9 266.5,388.9 266.6,389.5 266.7,390.5 266.8,391.2 266.9,392.1 267.0,392.9 267.1,393.9 267.3,394.8 267.4,395.3 267.5,396.2 267.6,397.4 267.7,397.9 267.8,399.1 268.0,399.9 268.1,400.5 268.2,401.5 268.3,402.1 268.4,403.3 268.6,403.7 268.7,404.5 268.8,405.2 268.9,406.4 269.0,406.9 269.1,407.7 269.3,408.8 269.4,409.4 269.5,410.1 269.6,410.7 269.8,411.7 269.9,412.3 270.1,413.7 270.2,414.3 270.4,415.6 270.5,416.2 270.7,417.4 270.9,417.7 271.0,419.2 271.2,419.5 271.3,420.6 271.5,421.4 271.7,422.6 271.8,423.2 272.0,424.2 272.1,424.9 272.3,425.4 272.5,425.9 272.6,426.7 272.8,427.7 272.9,428.6 273.1,429.1 273.3,429.5 273.4,430.3 273.6,431.0 273.7,431.4 273.9,432.2 274.2,433.1 274.5,434.0 274.7,435.1 275.0,436.2 275.2,437.2 275.5,437.7 275.7,438.5 276.0,439.4 276.3,439.7 276.7,440.4 277.1,441.0 277.6,441.3 278.2,441.6 278.8,442.3 279.5,442.5 280.3,442.4 281.1,442.9 282.0,443.0 282.9,443.1 283.8,443.1 284.8,442.9 285.7,443.0 286.7,442.8 287.6,442.9 288.4,442.6 289.2,442.7 290.0,442.8 291.0,443.0 292.0,442.9 293.0,443.0 294.0,442.9 294.9,442.9 295.8,442.6 296.6,442.5 297.3,442.4 297.9,442.2 298.4,442.5" fill="none" stroke="#14b3a0" stroke-width="2.9" stroke-linejoin="round" stroke-linecap="round"/>
<polyline points="474.4,441.6 475.0,441.4 475.6,441.2 476.3,441.5 476.9,440.9 477.5,441.1 478.1,441.2 478.8,440.6 479.4,440.8 480.0,440.7 480.6,440.3 481.3,440.4 481.9,440.5 482.5,440.2 483.1,440.3 483.8,439.8 484.4,439.7 485.0,439.6 485.6,439.9 486.3,440.2 486.9,440.0 487.5,440.2 488.2,440.0 488.8,440.2 489.4,439.9 490.1,440.1 490.7,440.4 491.3,440.4 491.9,440.3 492.6,440.2 493.2,440.3 493.8,440.3 494.5,440.4 495.1,440.8" fill="none" stroke="#a7a7a9" stroke-width="2.8" stroke-linejoin="round" stroke-linecap="round"/>
<polyline points="495.1,440.6 495.1,440.0 495.1,439.4 495.1,438.8 495.1,438.2 495.1,437.6 495.1,437.0 495.2,436.4 495.2,435.8 495.2,435.2 495.2,434.6 495.2,434.0 495.2,433.4 495.2,432.8 495.2,432.2 495.2,431.6 495.2,431.0 495.2,430.4 495.2,429.8 495.3,429.2 495.3,428.6 495.3,427.9 495.3,427.3 495.3,426.7 495.3,426.1 495.3,425.5 495.3,424.9 495.3,424.3 495.3,423.7 495.3,423.1 495.3,422.5 495.3,421.9 495.4,421.3 495.4,420.7 495.4,420.1 495.4,419.5 495.4,418.9 495.4,418.3 495.4,417.7 495.4,417.1 495.4,416.5 495.4,415.9 495.4,415.3 495.4,414.7 495.4,414.1 495.5,413.5 495.5,412.9 495.5,412.3 495.5,411.7 495.5,411.1 495.5,410.5 495.5,409.9 495.5,409.3 495.5,408.7 495.5,408.1 495.5,407.5 495.5,406.9 495.6,406.3 495.6,405.7 495.6,405.1 495.6,404.5 495.6,403.8 495.6,403.2 495.6,402.6 495.6,402.0 495.6,401.4 495.6,400.8 495.6,400.2 495.6,399.6 495.6,399.0 495.7,398.4 495.7,397.8 495.7,397.2 495.7,396.6 495.7,396.0 495.7,395.4 495.7,394.8 495.7,394.2 495.7,393.6 495.7,393.0 495.7,392.4 495.7,391.8 495.7,391.2 495.8,390.6 495.8,390.0 495.8,389.4 495.8,388.8 495.8,388.2 495.8,387.6 495.8,387.0 495.8,386.4 495.8,385.8 495.8,385.2 495.8,384.6 495.8,384.0 495.9,383.4 495.9,382.8 495.9,382.2 495.9,381.6 495.9,381.0 495.9,380.4 495.9,379.8 495.9,379.1 495.9,378.5 495.9,377.9 495.9,377.3 495.9,376.7 495.9,376.1 496.0,375.5 496.0,374.9 496.0,374.3 496.0,373.7 496.0,373.1 496.0,372.5 496.0,371.9 496.0,371.3 496.0,370.7 496.0,370.1 496.0,369.5 496.0,368.9 496.1,368.3 496.1,367.7 496.1,367.1 496.1,366.5 496.1,365.9 496.1,365.3 496.1,364.7 496.1,364.1 496.1,363.5 496.1,362.9 496.1,362.3 496.1,361.7 496.1,361.1 496.2,360.5 496.2,359.9 496.2,359.3 496.2,358.7 496.2,358.1 496.2,357.5 496.2,356.9 496.2,356.3 496.2,355.7 496.2,355.0 496.2,354.4 496.2,353.8 496.2,353.2 496.3,352.6 496.3,352.0 496.3,351.4 496.3,350.8 496.3,350.2 496.3,349.6 496.3,349.0 496.3,348.4 496.3,347.8 496.3,347.2 496.3,346.6 496.3,346.0 496.4,345.4 496.4,344.8 496.4,344.2 496.4,343.6 496.4,343.0 496.4,342.4 496.4,341.8 496.4,341.2 496.4,340.6 496.4,340.0 496.4,339.4 496.4,338.8 496.4,338.2 496.5,337.6 496.5,337.0 496.5,336.4 496.5,335.8 496.5,335.2 496.5,334.6 496.5,334.0 496.5,333.4 496.5,332.8 496.5,332.2 496.5,331.6 496.5,330.9 496.5,330.3 496.6,329.7 496.6,329.1 496.6,328.5 496.6,327.9 496.6,327.3 496.6,326.7 496.6,326.1 496.6,325.5 496.6,324.9 496.6,324.3 496.6,323.7 496.6,323.1 496.7,322.5 496.7,321.9 496.7,321.3 496.7,320.7 496.7,320.1 496.7,319.5 496.7,318.9" fill="none" stroke="#a7a7a9" stroke-width="1.8" stroke-linejoin="round" stroke-linecap="round"/>
<polyline points="496.7,318.9 496.8,319.3 496.9,319.9 497.1,320.2 497.3,321.1 497.5,321.8 497.7,322.5 497.9,323.0 498.1,324.2 498.3,325.2 498.6,326.4 498.8,328.2 498.9,328.8 499.0,328.8 499.1,330.0 499.2,330.5 499.3,331.0 499.4,331.7 499.5,332.7 499.6,333.3 499.7,334.2 499.8,335.0 499.9,335.5 500.0,336.7 500.2,337.7 500.3,338.6 500.4,339.2 500.5,339.8 500.6,340.6 500.7,341.6 500.9,343.0 501.0,343.5 501.1,344.4 501.2,345.6 501.4,346.2 501.5,347.2 501.6,348.0 501.7,348.6 501.9,349.8 502.0,350.8 502.1,351.2 502.2,352.0 502.4,352.9 502.5,353.5 502.6,354.6 502.7,355.6 502.9,356.3 503.0,357.1 503.1,358.1 503.3,358.5 503.4,359.6 503.5,360.3 503.7,361.2 503.8,361.8 503.9,363.0 504.1,363.4 504.2,364.3 504.4,365.5 504.5,366.4 504.6,366.9 504.8,367.7 504.9,368.5 505.1,369.3 505.2,370.3 505.4,370.8 505.5,371.6 505.7,372.6 505.8,373.2 506.0,374.2 506.1,375.1 506.3,375.9 506.4,376.6 506.6,377.3 506.8,378.2 506.9,378.7 507.1,380.0 507.3,380.5 507.4,381.3 507.6,382.0 507.8,383.0 508.0,383.9 508.1,384.5 508.3,385.6 508.5,386.2 508.7,386.8 508.8,387.7 509.0,388.7 509.2,389.2 509.4,390.0 509.6,390.5 509.8,391.5 510.0,392.2 510.2,392.9 510.4,393.7 510.6,394.5 510.8,395.3 511.0,396.0 511.2,396.6 511.5,397.6 511.7,398.7 511.9,399.2 512.2,399.8 512.4,400.6 512.7,401.8 512.9,402.3 513.2,403.2 513.4,404.0 513.7,405.0 513.9,406.1 514.2,406.6 514.4,407.4 514.7,408.2 515.0,409.0 515.2,409.8 515.5,410.7 515.8,411.5 516.1,412.2 516.4,412.7 516.6,413.6 516.9,414.4 517.2,414.6 517.5,415.3 517.9,416.4 518.3,417.3 518.7,418.1 519.1,418.8 519.5,419.7 519.9,420.3 520.4,421.2 520.8,422.0 521.2,422.4 521.7,423.3 522.1,423.9 522.5,424.6 523.0,424.8 523.4,425.9 523.9,426.4 524.3,427.1 524.7,427.7 525.2,427.8 525.6,428.6 526.2,429.0 526.8,430.0 527.5,430.9 528.1,431.1 528.7,431.8 529.3,432.2 530.0,432.8 530.6,433.3 531.2,433.7 531.8,434.8 532.5,435.1 533.1,435.3 533.7,435.9 534.4,436.4 535.1,436.7 535.8,437.1 536.5,437.6 537.2,437.8 537.9,438.0 538.6,438.3 539.4,438.8 540.1,439.1 540.9,439.2 541.8,439.9 542.5,440.3 543.2,440.7 544.1,440.9 544.9,440.9 545.8,441.5 546.7,441.7 547.6,442.0 548.4,442.5 549.3,443.0 550.1,443.6 550.9,443.8 551.6,443.9 552.2,444.4 552.8,444.5 553.2,444.7" fill="none" stroke="#a7a7a9" stroke-width="3.2" stroke-linejoin="round" stroke-linecap="round"/>
<polyline points="610.6,439.3 611.2,439.5 611.9,440.6 612.5,439.2 613.1,439.3 613.7,439.5 614.4,438.2 615.0,439.2 615.6,439.5 616.2,439.9 616.9,437.8 617.5,438.4 618.1,437.7 618.7,439.8 619.4,439.4 620.0,437.4 620.6,440.2 621.2,440.0 621.9,439.0 622.5,438.8 623.1,437.4 623.7,436.9 624.4,438.3 625.0,436.9 625.6,437.2 626.2,437.3 626.9,436.5 627.5,437.8 628.1,437.6 628.7,438.8 629.4,437.7 630.0,438.0 630.6,437.5" fill="none" stroke="#e8923f" stroke-width="2.6" stroke-linejoin="round" stroke-linecap="round"/>
<polyline points="630.8,438.0 630.8,437.4 630.8,436.8 630.8,436.2 630.8,435.6 630.9,435.0 630.9,434.4 630.9,433.8 630.9,433.2 630.9,432.6 630.9,432.0 630.9,431.4 630.9,430.8 630.9,430.2 631.0,429.6 631.0,429.0 631.0,428.4 631.0,427.8 631.0,427.2 631.0,426.6 631.0,426.0 631.0,425.4 631.0,424.8 631.1,424.2 631.1,423.6 631.1,423.0 631.1,422.4 631.1,421.8 631.1,421.2 631.1,420.6 631.1,420.0 631.1,419.4 631.2,418.8 631.2,418.2 631.2,417.6 631.2,417.0 631.2,416.4 631.2,415.8 631.2,415.2 631.2,414.6 631.2,414.0 631.3,413.4 631.3,412.8 631.3,412.2 631.3,411.6 631.3,411.0 631.3,410.4 631.3,409.8 631.3,409.2 631.3,408.6 631.4,408.0 631.4,407.4 631.4,406.8 631.4,406.2 631.4,405.6 631.4,405.0 631.4,404.4 631.4,403.8 631.4,403.2 631.5,402.6 631.5,402.0 631.5,401.4 631.5,400.8 631.5,400.2 631.5,399.6 631.5,399.0 631.5,398.4 631.5,397.8 631.6,397.2 631.6,396.6 631.6,396.0 631.6,395.4 631.6,394.8 631.6,394.2 631.6,393.6 631.6,393.0 631.6,392.4 631.7,391.8 631.7,391.2 631.7,390.6 631.7,390.0 631.7,389.4 631.7,388.8 631.7,388.2 631.7,387.6 631.7,387.0 631.8,386.4 631.8,385.8 631.8,385.2 631.8,384.6 631.8,384.0 631.8,383.4 631.8,382.8 631.8,382.2 631.8,381.6 631.9,381.0 631.9,380.4 631.9,379.8 631.9,379.2 631.9,378.6 631.9,378.0 631.9,377.4 631.9,376.8 631.9,376.2 632.0,375.6 632.0,375.0 632.0,374.4 632.0,373.8 632.0,373.2 632.0,372.6 632.0,372.0 632.0,371.4 632.0,370.8 632.1,370.2 632.1,369.6 632.1,369.0 632.1,368.4 632.1,367.8 632.1,367.2 632.1,366.6 632.1,366.0 632.1,365.4 632.2,364.8 632.2,364.2 632.2,363.6 632.2,363.0 632.2,362.4 632.2,361.8 632.2,361.2 632.2,360.6 632.2,360.0" fill="none" stroke="#e8923f" stroke-width="2.0" stroke-linejoin="round" stroke-linecap="round"/>
<polyline points="632.2,359.9 632.4,360.7 632.6,361.2 632.9,360.6 633.2,361.0 633.5,362.5 633.8,363.2 634.1,365.4 634.4,366.6 634.5,367.0 634.6,367.6 634.7,368.4 634.8,368.1 634.9,369.4 635.0,369.7 635.1,372.0 635.2,371.1 635.3,373.5 635.4,372.9 635.5,375.0 635.6,375.2 635.8,376.2 635.9,378.0 636.0,377.3 636.1,378.3 636.2,380.9 636.3,381.0 636.4,381.0 636.5,383.6 636.7,384.4 636.8,383.5 636.9,384.8 637.0,385.2 637.2,386.4 637.3,387.9 637.5,387.8 637.7,389.7 637.8,389.2 638.0,390.3 638.1,392.4 638.3,392.4 638.5,393.2 638.6,394.3 638.8,394.9 639.0,395.4 639.1,395.5 639.3,397.6 639.5,398.8 639.6,399.6 639.8,399.6 640.0,399.7 640.2,400.7 640.5,402.2 640.8,403.1 641.0,402.8 641.3,403.9 641.6,404.9 641.8,406.0 642.1,407.4 642.4,407.6 642.7,407.4 642.9,409.7 643.2,409.7 643.5,410.6 643.8,410.7 644.1,412.0 644.4,412.8 644.7,414.4 645.1,413.9 645.4,415.6 645.7,415.6 646.0,417.4 646.4,416.8 646.7,418.1 647.1,418.9 647.5,420.3 647.9,419.8 648.3,421.4 648.7,421.6 649.1,422.5 649.5,423.6 650.0,425.2 650.4,425.0 650.9,426.6 651.4,425.6 651.9,427.8 652.5,427.2 653.1,427.4 653.7,429.1 654.3,429.9 654.9,428.6 655.6,429.6 656.3,431.1 657.0,430.7 657.7,430.9 658.5,430.8 659.2,431.2 660.0,432.7 660.7,433.8 661.5,434.1 662.3,433.3 663.1,432.6 664.0,433.4 664.8,434.6 665.7,434.8 666.6,434.6 667.4,434.0 668.3,434.7 669.2,434.8 670.0,435.3 670.8,434.7 671.7,436.2 672.5,436.2 673.4,434.8 674.2,435.2 675.1,436.4 675.9,435.3 676.8,436.7 677.6,436.0 678.4,436.4 679.2,436.5 680.0,435.7 680.9,436.0 681.8,436.1 682.7,437.1 683.6,437.3 684.6,436.4 685.4,438.1 686.3,437.4 687.0,437.2 687.7,437.7 688.3,439.0 688.8,438.2" fill="none" stroke="#e8923f" stroke-width="2.7" stroke-linejoin="round" stroke-linecap="round"/>
<line x1="50.4" y1="176.7" x2="167.6" y2="176.7" stroke="#000" stroke-width="3" stroke-dasharray="5.5 6.25" stroke-dashoffset="2.5"/>
<line x1="203.3" y1="176.7" x2="320.2" y2="176.7" stroke="#000" stroke-width="3" stroke-dasharray="5.5 6.25" stroke-dashoffset="2.5"/>
<line x1="463.2" y1="176.7" x2="604" y2="176.7" stroke="#000" stroke-width="3" stroke-dasharray="5.5 6.25" stroke-dashoffset="2.5"/>
<line x1="612" y1="176.7" x2="735.6" y2="176.7" stroke="#000" stroke-width="3" stroke-dasharray="5.5 6.25" stroke-dashoffset="2.5"/>
<line x1="55.3" y1="438.1" x2="178.6" y2="438.1" stroke="#000" stroke-width="3" stroke-dasharray="5.5 6.25" stroke-dashoffset="2.5"/>
<line x1="194.9" y1="437.9" x2="318.2" y2="437.9" stroke="#000" stroke-width="3" stroke-dasharray="5.5 6.25" stroke-dashoffset="2.5"/>
<line x1="458.4" y1="439.7" x2="574.7" y2="439.7" stroke="#000" stroke-width="3" stroke-dasharray="5.5 6.25" stroke-dashoffset="2.5"/>
<line x1="595" y1="439" x2="712.5" y2="439" stroke="#000" stroke-width="3" stroke-dasharray="5.5 6.25" stroke-dashoffset="2.5"/>
<path d="M330.2,152.2 H368.5 V117.4" fill="none" stroke="#000" stroke-width="2.8" stroke-linejoin="miter"/>
<text transform="translate(375.5,140.3) scale(0.955,1)" font-size="22.05" text-anchor="start" textLength="52.36" lengthAdjust="spacing" >4 mV</text>
<text transform="translate(330,178.3) scale(0.955,1)" font-size="22.05" text-anchor="start" textLength="59.16" lengthAdjust="spacing" >50 ms</text>
<path d="M701.7,124.7 H739.5 V90.3" fill="none" stroke="#000" stroke-width="2.8" stroke-linejoin="miter"/>
<text transform="translate(747,113.7) scale(0.955,1)" font-size="22.05" text-anchor="start" textLength="52.36" lengthAdjust="spacing" >4 mV</text>
<text transform="translate(701,150.4) scale(0.955,1)" font-size="22.05" text-anchor="start" textLength="60.00" lengthAdjust="spacing" >50 ms</text>
<path d="M332.7,384 H367.7 V352.7" fill="none" stroke="#000" stroke-width="2.8" stroke-linejoin="miter"/>
<text transform="translate(377.5,376) scale(0.955,1)" font-size="22.05" text-anchor="start" textLength="53.40" lengthAdjust="spacing" >4 mV</text>
<text transform="translate(327.5,407.5) scale(0.955,1)" font-size="22.05" text-anchor="start" textLength="61.78" lengthAdjust="spacing" >50 ms</text>
<path d="M695.7,391 H730.7 V359.5" fill="none" stroke="#000" stroke-width="2.8" stroke-linejoin="miter"/>
<text transform="translate(739.3,381.7) scale(0.955,1)" font-size="22.05" text-anchor="start" textLength="52.88" lengthAdjust="spacing" >4 mV</text>
<text transform="translate(696.5,413.8) scale(0.955,1)" font-size="22.05" text-anchor="start" textLength="61.78" lengthAdjust="spacing" >50 ms</text>
<path d="M116.3,527.2 V760.6 M98,760.5 H349.1" fill="none" stroke="#000" stroke-width="2.2"/>
<line x1="98" y1="760.6" x2="116.3" y2="760.6" stroke="#000" stroke-width="2.2"/>
<text transform="translate(92.3,768.2) scale(1.0,1)" font-size="21.42" text-anchor="end" >0</text>
<line x1="98" y1="694.2" x2="116.3" y2="694.2" stroke="#000" stroke-width="2.2"/>
<text transform="translate(92.3,701.8000000000001) scale(1.0,1)" font-size="21.42" text-anchor="end" >10</text>
<line x1="98" y1="627.8" x2="116.3" y2="627.8" stroke="#000" stroke-width="2.2"/>
<text transform="translate(92.3,635.4000000000001) scale(1.0,1)" font-size="21.42" text-anchor="end" >20</text>
<line x1="98" y1="561.4" x2="116.3" y2="561.4" stroke="#000" stroke-width="2.2"/>
<text transform="translate(92.3,569.0000000000001) scale(1.0,1)" font-size="21.42" text-anchor="end" >30</text>
<line x1="142.4" y1="760.5" x2="142.4" y2="778.6" stroke="#000" stroke-width="2.2"/>
<line x1="202.6" y1="760.5" x2="202.6" y2="778.6" stroke="#000" stroke-width="2.2"/>
<line x1="262" y1="760.5" x2="262" y2="778.6" stroke="#000" stroke-width="2.2"/>
<line x1="321.4" y1="760.5" x2="321.4" y2="778.6" stroke="#000" stroke-width="2.2"/>
<text transform="translate(48.7,650.4) rotate(-90) scale(0.955,1)" font-size="22.89" text-anchor="middle" textLength="227.23" lengthAdjust="spacing" >EPSP amplitude (mV)</text>
<line x1="130.7" y1="717.8" x2="153.2" y2="673.4" stroke="#000" stroke-width="2.2"/>
<line x1="130.7" y1="725.7" x2="153.2" y2="717.8" stroke="#000" stroke-width="2.2"/>
<line x1="130.7" y1="736.6" x2="153.2" y2="731.4" stroke="#000" stroke-width="2.2"/>
<line x1="130.7" y1="741.6" x2="153.2" y2="723.4" stroke="#000" stroke-width="2.2"/>
<line x1="130.7" y1="745.3" x2="153.2" y2="740.7" stroke="#000" stroke-width="2.2"/>
<line x1="130.7" y1="750.8" x2="153.2" y2="743.3" stroke="#000" stroke-width="2.2"/>
<line x1="130.7" y1="747.3" x2="153.2" y2="736.0" stroke="#000" stroke-width="2.2"/>
<circle cx="130.7" cy="717.8" r="4.6" fill="#a7a7a9" stroke="#111" stroke-width="2.1"/>
<circle cx="130.7" cy="725.7" r="4.6" fill="#a7a7a9" stroke="#111" stroke-width="2.1"/>
<circle cx="130.7" cy="736.6" r="4.6" fill="#a7a7a9" stroke="#111" stroke-width="2.1"/>
<circle cx="130.7" cy="741.6" r="4.6" fill="#a7a7a9" stroke="#111" stroke-width="2.1"/>
<circle cx="130.7" cy="745.3" r="4.6" fill="#a7a7a9" stroke="#111" stroke-width="2.1"/>
<circle cx="130.7" cy="750.8" r="4.6" fill="#a7a7a9" stroke="#111" stroke-width="2.1"/>
<circle cx="130.7" cy="747.3" r="4.6" fill="#a7a7a9" stroke="#111" stroke-width="2.1"/>
<circle cx="153.2" cy="673.4" r="4.6" fill="#12a8ec" stroke="#111" stroke-width="2.1"/>
<circle cx="153.2" cy="717.8" r="4.6" fill="#12a8ec" stroke="#111" stroke-width="2.1"/>
<circle cx="153.2" cy="731.4" r="4.6" fill="#12a8ec" stroke="#111" stroke-width="2.1"/>
<circle cx="153.2" cy="723.4" r="4.6" fill="#12a8ec" stroke="#111" stroke-width="2.1"/>
<circle cx="153.2" cy="740.7" r="4.6" fill="#12a8ec" stroke="#111" stroke-width="2.1"/>
<circle cx="153.2" cy="743.3" r="4.6" fill="#12a8ec" stroke="#111" stroke-width="2.1"/>
<circle cx="153.2" cy="736.0" r="4.6" fill="#12a8ec" stroke="#111" stroke-width="2.1"/>
<line x1="190.8" y1="621.8" x2="213.2" y2="599.9" stroke="#000" stroke-width="2.2"/>
<line x1="190.8" y1="657.3" x2="213.2" y2="558.1" stroke="#000" stroke-width="2.2"/>
<line x1="190.8" y1="658.3" x2="213.2" y2="642.4" stroke="#000" stroke-width="2.2"/>
<line x1="190.8" y1="686.9" x2="213.2" y2="659.7" stroke="#000" stroke-width="2.2"/>
<line x1="190.8" y1="690.2" x2="213.2" y2="666.3" stroke="#000" stroke-width="2.2"/>
<line x1="190.8" y1="708.5" x2="213.2" y2="648.4" stroke="#000" stroke-width="2.2"/>
<line x1="190.8" y1="718.1" x2="213.2" y2="686.9" stroke="#000" stroke-width="2.2"/>
<line x1="190.8" y1="709.5" x2="213.2" y2="687.6" stroke="#000" stroke-width="2.2"/>
<line x1="190.8" y1="744.7" x2="213.2" y2="737.4" stroke="#000" stroke-width="2.2"/>
<circle cx="190.8" cy="621.8" r="4.6" fill="#a7a7a9" stroke="#111" stroke-width="2.1"/>
<circle cx="190.8" cy="657.3" r="4.6" fill="#a7a7a9" stroke="#111" stroke-width="2.1"/>
<circle cx="190.8" cy="658.3" r="4.6" fill="#a7a7a9" stroke="#111" stroke-width="2.1"/>
<circle cx="190.8" cy="686.9" r="4.6" fill="#a7a7a9" stroke="#111" stroke-width="2.1"/>
<circle cx="190.8" cy="690.2" r="4.6" fill="#a7a7a9" stroke="#111" stroke-width="2.1"/>
<circle cx="190.8" cy="708.5" r="4.6" fill="#a7a7a9" stroke="#111" stroke-width="2.1"/>
<circle cx="190.8" cy="718.1" r="4.6" fill="#a7a7a9" stroke="#111" stroke-width="2.1"/>
<circle cx="190.8" cy="709.5" r="4.6" fill="#a7a7a9" stroke="#111" stroke-width="2.1"/>
<circle cx="190.8" cy="669.0" r="4.6" fill="#a7a7a9" stroke="#111" stroke-width="2.1"/>
<circle cx="190.8" cy="744.7" r="4.6" fill="#a7a7a9" stroke="#111" stroke-width="2.1"/>
<circle cx="213.2" cy="599.9" r="4.6" fill="#14b3a0" stroke="#111" stroke-width="2.1"/>
<circle cx="213.2" cy="558.1" r="4.6" fill="#14b3a0" stroke="#111" stroke-width="2.1"/>
<circle cx="213.2" cy="642.4" r="4.6" fill="#14b3a0" stroke="#111" stroke-width="2.1"/>
<circle cx="213.2" cy="659.7" r="4.6" fill="#14b3a0" stroke="#111" stroke-width="2.1"/>
<circle cx="213.2" cy="666.3" r="4.6" fill="#14b3a0" stroke="#111" stroke-width="2.1"/>
<circle cx="213.2" cy="648.4" r="4.6" fill="#14b3a0" stroke="#111" stroke-width="2.1"/>
<circle cx="213.2" cy="686.9" r="4.6" fill="#14b3a0" stroke="#111" stroke-width="2.1"/>
<circle cx="213.2" cy="687.6" r="4.6" fill="#14b3a0" stroke="#111" stroke-width="2.1"/>
<circle cx="213.2" cy="737.4" r="4.6" fill="#14b3a0" stroke="#111" stroke-width="2.1"/>
<line x1="250.6" y1="691.5" x2="273.1" y2="683.4" stroke="#000" stroke-width="2.2"/>
<line x1="250.6" y1="694.3" x2="273.1" y2="683.6" stroke="#000" stroke-width="2.2"/>
<line x1="250.6" y1="694.5" x2="273.1" y2="718.8" stroke="#000" stroke-width="2.2"/>
<line x1="250.6" y1="704.8" x2="273.1" y2="737.7" stroke="#000" stroke-width="2.2"/>
<line x1="250.6" y1="711.5" x2="273.1" y2="744.0" stroke="#000" stroke-width="2.2"/>
<line x1="250.6" y1="716.2" x2="273.1" y2="724.1" stroke="#000" stroke-width="2.2"/>
<line x1="250.6" y1="726.7" x2="273.1" y2="732.0" stroke="#000" stroke-width="2.2"/>
<line x1="250.6" y1="736.0" x2="273.1" y2="737.7" stroke="#000" stroke-width="2.2"/>
<line x1="250.6" y1="745.0" x2="273.1" y2="750.2" stroke="#000" stroke-width="2.2"/>
<line x1="250.6" y1="754.3" x2="273.1" y2="757.5" stroke="#000" stroke-width="2.2"/>
<line x1="250.6" y1="720.8" x2="273.1" y2="750.0" stroke="#000" stroke-width="2.2"/>
<circle cx="250.6" cy="691.5" r="4.6" fill="#a7a7a9" stroke="#111" stroke-width="2.1"/>
<circle cx="250.6" cy="694.3" r="4.6" fill="#a7a7a9" stroke="#111" stroke-width="2.1"/>
<circle cx="250.6" cy="694.5" r="4.6" fill="#a7a7a9" stroke="#111" stroke-width="2.1"/>
<circle cx="250.6" cy="704.8" r="4.6" fill="#a7a7a9" stroke="#111" stroke-width="2.1"/>
<circle cx="250.6" cy="711.5" r="4.6" fill="#a7a7a9" stroke="#111" stroke-width="2.1"/>
<circle cx="250.6" cy="716.2" r="4.6" fill="#a7a7a9" stroke="#111" stroke-width="2.1"/>
<circle cx="250.6" cy="726.7" r="4.6" fill="#a7a7a9" stroke="#111" stroke-width="2.1"/>
<circle cx="250.6" cy="736.0" r="4.6" fill="#a7a7a9" stroke="#111" stroke-width="2.1"/>
<circle cx="250.6" cy="745.0" r="4.6" fill="#a7a7a9" stroke="#111" stroke-width="2.1"/>
<circle cx="250.6" cy="754.3" r="4.6" fill="#a7a7a9" stroke="#111" stroke-width="2.1"/>
<circle cx="250.6" cy="720.8" r="4.6" fill="#a7a7a9" stroke="#111" stroke-width="2.1"/>
<circle cx="273.1" cy="683.4" r="4.6" fill="#2a2a2a" stroke="#111" stroke-width="2.1"/>
<circle cx="273.1" cy="683.6" r="4.6" fill="#2a2a2a" stroke="#111" stroke-width="2.1"/>
<circle cx="273.1" cy="718.8" r="4.6" fill="#2a2a2a" stroke="#111" stroke-width="2.1"/>
<circle cx="273.1" cy="737.7" r="4.6" fill="#2a2a2a" stroke="#111" stroke-width="2.1"/>
<circle cx="273.1" cy="744.0" r="4.6" fill="#2a2a2a" stroke="#111" stroke-width="2.1"/>
<circle cx="273.1" cy="724.1" r="4.6" fill="#2a2a2a" stroke="#111" stroke-width="2.1"/>
<circle cx="273.1" cy="732.0" r="4.6" fill="#2a2a2a" stroke="#111" stroke-width="2.1"/>
<circle cx="273.1" cy="737.7" r="4.6" fill="#2a2a2a" stroke="#111" stroke-width="2.1"/>
<circle cx="273.1" cy="750.2" r="4.6" fill="#2a2a2a" stroke="#111" stroke-width="2.1"/>
<circle cx="273.1" cy="757.5" r="4.6" fill="#2a2a2a" stroke="#111" stroke-width="2.1"/>
<circle cx="273.1" cy="750.0" r="4.6" fill="#2a2a2a" stroke="#111" stroke-width="2.1"/>
<line x1="310.3" y1="672.3" x2="333.1" y2="705.2" stroke="#000" stroke-width="2.2"/>
<line x1="310.3" y1="695.5" x2="333.1" y2="705.2" stroke="#000" stroke-width="2.2"/>
<line x1="310.3" y1="698.2" x2="333.1" y2="710.8" stroke="#000" stroke-width="2.2"/>
<line x1="310.3" y1="724.1" x2="333.1" y2="734.7" stroke="#000" stroke-width="2.2"/>
<line x1="310.3" y1="733.7" x2="333.1" y2="734.7" stroke="#000" stroke-width="2.2"/>
<line x1="310.3" y1="739.4" x2="333.1" y2="737.7" stroke="#000" stroke-width="2.2"/>
<line x1="310.3" y1="744.0" x2="333.1" y2="753.7" stroke="#000" stroke-width="2.2"/>
<circle cx="310.3" cy="672.3" r="4.6" fill="#a7a7a9" stroke="#111" stroke-width="2.1"/>
<circle cx="310.3" cy="695.5" r="4.6" fill="#a7a7a9" stroke="#111" stroke-width="2.1"/>
<circle cx="310.3" cy="698.2" r="4.6" fill="#a7a7a9" stroke="#111" stroke-width="2.1"/>
<circle cx="310.3" cy="724.1" r="4.6" fill="#a7a7a9" stroke="#111" stroke-width="2.1"/>
<circle cx="310.3" cy="733.7" r="4.6" fill="#a7a7a9" stroke="#111" stroke-width="2.1"/>
<circle cx="310.3" cy="739.4" r="4.6" fill="#a7a7a9" stroke="#111" stroke-width="2.1"/>
<circle cx="310.3" cy="744.0" r="4.6" fill="#a7a7a9" stroke="#111" stroke-width="2.1"/>
<circle cx="333.1" cy="705.2" r="4.6" fill="#e8923f" stroke="#111" stroke-width="2.1"/>
<circle cx="333.1" cy="705.2" r="4.6" fill="#e8923f" stroke="#111" stroke-width="2.1"/>
<circle cx="333.1" cy="710.8" r="4.6" fill="#e8923f" stroke="#111" stroke-width="2.1"/>
<circle cx="333.1" cy="734.7" r="4.6" fill="#e8923f" stroke="#111" stroke-width="2.1"/>
<circle cx="333.1" cy="734.7" r="4.6" fill="#e8923f" stroke="#111" stroke-width="2.1"/>
<circle cx="333.1" cy="737.7" r="4.6" fill="#e8923f" stroke="#111" stroke-width="2.1"/>
<circle cx="333.1" cy="753.7" r="4.6" fill="#e8923f" stroke="#111" stroke-width="2.1"/>
<line x1="131.2" y1="652.7" x2="153.8" y2="652.7" stroke="#000" stroke-width="2.6"/>
<path d="M143.25,639.40 L143.25,632.80 M143.25,639.40 L149.53,637.36 M143.25,639.40 L147.13,644.74 M143.25,639.40 L139.37,644.74 M143.25,639.40 L136.97,637.36 " stroke="#000" stroke-width="3.0" stroke-linecap="butt" fill="none"/>
<line x1="191.2" y1="538.2" x2="213.7" y2="538.2" stroke="#000" stroke-width="2.6"/>
<path d="M193.40,523.90 L193.40,517.10 M193.40,523.90 L199.87,521.80 M193.40,523.90 L197.40,529.40 M193.40,523.90 L189.40,529.40 M193.40,523.90 L186.93,521.80 " stroke="#000" stroke-width="3.0" stroke-linecap="butt" fill="none"/>
<path d="M208.50,523.90 L208.50,517.10 M208.50,523.90 L214.97,521.80 M208.50,523.90 L212.50,529.40 M208.50,523.90 L204.50,529.40 M208.50,523.90 L202.03,521.80 " stroke="#000" stroke-width="3.0" stroke-linecap="butt" fill="none"/>
<text transform="translate(149.5,803.0) rotate(-45) scale(0.955,1)" font-size="22.3" text-anchor="end">ME<tspan font-size="17.39" dy="1">0.1 µM</tspan></text>
<text transform="translate(209.5,801.0) rotate(-45) scale(0.955,1)" font-size="23.3" text-anchor="end">DPDPE</text>
<text transform="translate(269.5,803.0) rotate(-45) scale(0.955,1)" font-size="22.4" text-anchor="end">ME<tspan font-size="17.47" dy="1">0.3 µM</tspan></text>
<text transform="translate(330.0,800.5) rotate(-45) scale(0.955,1)" font-size="23.4" text-anchor="end">DAMGO</text>
<path d="M565.1,530.6 V765" fill="none" stroke="#000" stroke-width="2.2"/>
<line x1="546" y1="763.0" x2="565.1" y2="763.0" stroke="#000" stroke-width="2.2"/>
<text transform="translate(541.0,770.4) scale(1.0,1)" font-size="21.42" text-anchor="end" >0</text>
<line x1="546" y1="686.0" x2="565.1" y2="686.0" stroke="#000" stroke-width="2.2"/>
<text transform="translate(541.0,693.4) scale(1.0,1)" font-size="21.42" text-anchor="end" >100</text>
<line x1="546" y1="609.0" x2="565.1" y2="609.0" stroke="#000" stroke-width="2.2"/>
<text transform="translate(541.0,616.4) scale(1.0,1)" font-size="21.42" text-anchor="end" >200</text>
<line x1="546" y1="532.0" x2="565.1" y2="532.0" stroke="#000" stroke-width="2.2"/>
<text transform="translate(541.0,539.4) scale(1.0,1)" font-size="21.42" text-anchor="end" >300</text>
<line x1="570" y1="686" x2="800" y2="686" stroke="#000" stroke-width="2.2" stroke-dasharray="2 56.4" stroke-dashoffset="-51.9"/>
<rect x="583.6" y="647.2" width="34.0" height="116.2" fill="#a5a5a8" stroke="#000" stroke-width="1.9"/>
<rect x="636.9" y="641.3" width="34.4" height="122.1" fill="#a5a5a8" stroke="#000" stroke-width="1.9"/>
<rect x="690.5" y="692.4" width="33.7" height="71.0" fill="#a5a5a8" stroke="#000" stroke-width="1.9"/>
<rect x="743.7" y="706.0" width="34.0" height="57.4" fill="#a5a5a8" stroke="#000" stroke-width="1.9"/>
<path d="M546,763.4 H797.9" fill="none" stroke="#000" stroke-width="2.4"/>
<line x1="600.9" y1="763.4" x2="600.9" y2="783" stroke="#000" stroke-width="2.2"/>
<line x1="654" y1="763.4" x2="654" y2="783" stroke="#000" stroke-width="2.2"/>
<line x1="707.4" y1="763.4" x2="707.4" y2="783" stroke="#000" stroke-width="2.2"/>
<line x1="760.7" y1="763.4" x2="760.7" y2="783" stroke="#000" stroke-width="2.2"/>
<path d="M600.6,605.9 V687 M591.1,605.9 H610.1 M591.1,687 H610.1" fill="none" stroke="#000" stroke-width="1.8"/>
<path d="M654,607.4 V674.4 M644.8,607.4 H663.5 M644.8,674.4 H663.5" fill="none" stroke="#000" stroke-width="1.8"/>
<path d="M707.4,644.3 V738.2 M697.7,644.3 H717.5 M697.7,738.2 H717.5" fill="none" stroke="#000" stroke-width="1.8"/>
<path d="M760.7,687 V720.1 M750.6,687 H770.8 M750.6,720.1 H770.8" fill="none" stroke="#000" stroke-width="1.8"/>
<circle cx="600.1" cy="557.7" r="4.5" fill="#12a8ec" stroke="#111" stroke-width="2.2"/>
<circle cx="600.6" cy="605.9" r="4.5" fill="#12a8ec" stroke="#111" stroke-width="2.2"/>
<circle cx="587.4" cy="634.4" r="4.5" fill="#12a8ec" stroke="#111" stroke-width="2.2"/>
<circle cx="596" cy="639" r="4.5" fill="#12a8ec" stroke="#111" stroke-width="2.2"/>
<circle cx="604.9" cy="642.3" r="4.5" fill="#12a8ec" stroke="#111" stroke-width="2.2"/>
<circle cx="587.4" cy="669.6" r="4.5" fill="#12a8ec" stroke="#111" stroke-width="2.2"/>
<circle cx="596" cy="670.6" r="4.5" fill="#12a8ec" stroke="#111" stroke-width="2.2"/>
<circle cx="604.9" cy="670.1" r="4.5" fill="#12a8ec" stroke="#111" stroke-width="2.2"/>
<circle cx="613.9" cy="676.4" r="4.5" fill="#12a8ec" stroke="#111" stroke-width="2.2"/>
<circle cx="600.4" cy="695.6" r="4.5" fill="#12a8ec" stroke="#111" stroke-width="2.2"/>
<circle cx="640.8" cy="586.3" r="4.5" fill="#14b3a0" stroke="#111" stroke-width="2.2"/>
<circle cx="654.4" cy="593.3" r="4.5" fill="#14b3a0" stroke="#111" stroke-width="2.2"/>
<circle cx="647.8" cy="627" r="4.5" fill="#14b3a0" stroke="#111" stroke-width="2.2"/>
<circle cx="660.4" cy="630" r="4.5" fill="#14b3a0" stroke="#111" stroke-width="2.2"/>
<circle cx="640.8" cy="658.1" r="4.5" fill="#14b3a0" stroke="#111" stroke-width="2.2"/>
<circle cx="654.4" cy="654.2" r="4.5" fill="#14b3a0" stroke="#111" stroke-width="2.2"/>
<circle cx="667.1" cy="659.3" r="4.5" fill="#14b3a0" stroke="#111" stroke-width="2.2"/>
<circle cx="660.4" cy="673.8" r="4.5" fill="#14b3a0" stroke="#111" stroke-width="2.2"/>
<circle cx="647.8" cy="679.8" r="4.5" fill="#14b3a0" stroke="#111" stroke-width="2.2"/>
<circle cx="706.7" cy="571.8" r="4.5" fill="#1e1e1e" stroke="#111" stroke-width="2.2"/>
<circle cx="694.1" cy="650" r="4.5" fill="#1e1e1e" stroke="#111" stroke-width="2.2"/>
<circle cx="712.1" cy="656" r="4.5" fill="#1e1e1e" stroke="#111" stroke-width="2.2"/>
<circle cx="702.5" cy="659" r="4.5" fill="#1e1e1e" stroke="#111" stroke-width="2.2"/>
<circle cx="694.1" cy="677.1" r="4.5" fill="#1e1e1e" stroke="#111" stroke-width="2.2"/>
<circle cx="702.5" cy="677.1" r="4.5" fill="#1e1e1e" stroke="#111" stroke-width="2.2"/>
<circle cx="720.6" cy="682.5" r="4.5" fill="#1e1e1e" stroke="#111" stroke-width="2.2"/>
<circle cx="702.5" cy="687" r="4.5" fill="#1e1e1e" stroke="#111" stroke-width="2.2"/>
<circle cx="694.7" cy="714.1" r="4.5" fill="#1e1e1e" stroke="#111" stroke-width="2.2"/>
<circle cx="712.1" cy="714.1" r="4.5" fill="#1e1e1e" stroke="#111" stroke-width="2.2"/>
<circle cx="702.5" cy="720.1" r="4.5" fill="#1e1e1e" stroke="#111" stroke-width="2.2"/>
<circle cx="712.1" cy="723.1" r="4.5" fill="#1e1e1e" stroke="#111" stroke-width="2.2"/>
<circle cx="702.5" cy="736.1" r="4.5" fill="#1e1e1e" stroke="#111" stroke-width="2.2"/>
<circle cx="712.1" cy="744.2" r="4.5" fill="#1e1e1e" stroke="#111" stroke-width="2.2"/>
<circle cx="707.6" cy="757.7" r="4.5" fill="#1e1e1e" stroke="#111" stroke-width="2.2"/>
<circle cx="747.6" cy="682.5" r="4.5" fill="#e8923f" stroke="#111" stroke-width="2.2"/>
<circle cx="773.8" cy="689.1" r="4.5" fill="#e8923f" stroke="#111" stroke-width="2.2"/>
<circle cx="747.6" cy="696" r="4.5" fill="#e8923f" stroke="#111" stroke-width="2.2"/>
<circle cx="773.8" cy="703.6" r="4.5" fill="#e8923f" stroke="#111" stroke-width="2.2"/>
<circle cx="747.6" cy="707.2" r="4.5" fill="#e8923f" stroke="#111" stroke-width="2.2"/>
<circle cx="773.8" cy="714.1" r="4.5" fill="#e8923f" stroke="#111" stroke-width="2.2"/>
<circle cx="760.3" cy="733.1" r="4.5" fill="#e8923f" stroke="#111" stroke-width="2.2"/>
<path d="M626.1,504.6 V493.3 H733.7 V504.6" fill="none" stroke="#000" stroke-width="2.2"/>
<path d="M599.2,541.1 V530.2 H652.9 V571.9" fill="none" stroke="#000" stroke-width="2.2"/>
<path d="M706.7,554.6 V530.2 H759.7 V649.4" fill="none" stroke="#000" stroke-width="2.2"/>
<text transform="translate(614.3,523.5) scale(0.955,1)" font-size="22.57" text-anchor="start" textLength="25.65" lengthAdjust="spacing" >ns</text>
<text transform="translate(720.8,523.5) scale(0.955,1)" font-size="22.57" text-anchor="start" textLength="25.65" lengthAdjust="spacing" >ns</text>
<path d="M679.00,478.40 L679.00,471.80 M679.00,478.40 L685.28,476.36 M679.00,478.40 L682.88,483.74 M679.00,478.40 L675.12,483.74 M679.00,478.40 L672.72,476.36 " stroke="#000" stroke-width="3.0" stroke-linecap="butt" fill="none"/>
<text transform="translate(463.6,655.3) rotate(-90) scale(0.955,1)" font-size="22.57" text-anchor="middle" textLength="148.69" lengthAdjust="spacing" >EPSP change</text>
<text transform="translate(490.1,656.3) rotate(-90) scale(0.955,1)" font-size="22.57" text-anchor="middle" textLength="162.83" lengthAdjust="spacing" >(% of baseline)</text>
<text transform="translate(608.9,804.7) rotate(-45) scale(0.955,1)" font-size="22.5" text-anchor="end">ME<tspan font-size="17.55" dy="1">0.1 µM</tspan></text>
<text transform="translate(659.0,804.8) rotate(-45) scale(0.955,1)" font-size="22.9" text-anchor="end">DPDPE</text>
<text transform="translate(715.2,805.0) rotate(-45) scale(0.955,1)" font-size="22.5" text-anchor="end">ME<tspan font-size="17.55" dy="1">0.3 µM</tspan></text>
<text transform="translate(767.5,803.8) rotate(-45) scale(0.955,1)" font-size="23.4" text-anchor="end">DAMGO</text>
</svg></body></html>
